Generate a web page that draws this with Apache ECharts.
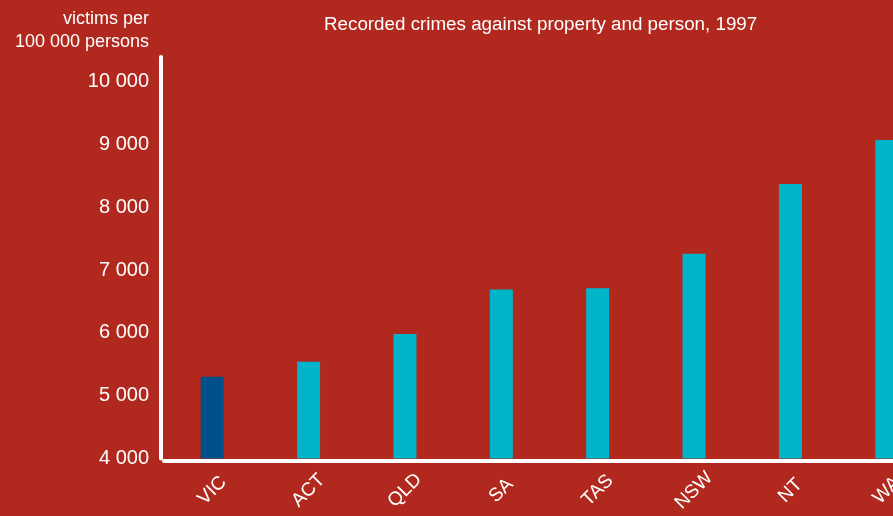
<!DOCTYPE html>
<html>
<head>
<meta charset="utf-8">
<script src="https://cdn.jsdelivr.net/npm/echarts@6/dist/echarts.min.js"></script>
<style>
  html, body { margin: 0; padding: 0; background: #B0281E; }
  #chart { width: 893px; height: 516px; }
</style>
</head>
<body>
<div id="chart"></div>
<script>
// States and territories, ordered by rate
const states = ['VIC', 'ACT', 'QLD', 'SA', 'TAS', 'NSW', 'NT', 'WA'];
// Victims per 100 000 persons, 1997
const victimRates = [5300, 5540, 5980, 6690, 6710, 7260, 8370, 9070];
// State drawn in the highlight colour
const highlightState = 'VIC';

const yMin = 4000;
const yMax = 10390;
const yStep = 1000;

const FONT = '"Liberation Sans", Arial, sans-serif';
const BG = '#B0281E';
const BAR = '#00B5CA';
const BAR_HI = '#00508A';
const INK = '#FFFFFF';

const fmt = v => String(v).replace(/\B(?=(\d{3})+(?!\d))/g, ' ');

const chart = echarts.init(document.getElementById('chart'), null, { renderer: 'canvas' });

chart.setOption({
  backgroundColor: BG,
  animation: false,
  title: {
    text: 'Recorded crimes against property and person, 1997',
    left: 319,
    top: 10,
    textStyle: { color: INK, fontFamily: FONT, fontSize: 18.8, fontWeight: 'normal' }
  },
  // the plot runs past the right edge of the page
  grid: {
    left: 164, width: 771, top: 57, bottom: 57.5,
    containLabel: false, outerBoundsMode: 'none'
  },
  xAxis: {
    type: 'category',
    data: states,
    offset: 2,
    axisLine: { show: true, lineStyle: { color: INK, width: 4 } },
    axisTick: { show: false },
    axisLabel: {
      color: INK, fontFamily: FONT, fontSize: 19,
      rotate: 45, align: 'center', verticalAlign: 'middle', margin: 30
    },
    splitLine: { show: false }
  },
  yAxis: {
    type: 'value',
    min: yMin,
    max: yMax,
    interval: yStep,
    offset: 3,
    name: 'victims per\n100 000 persons',
    nameLocation: 'end',
    nameGap: 3,
    nameTextStyle: {
      color: INK, fontFamily: FONT, fontSize: 18, align: 'right',
      lineHeight: 23, padding: [0, 12, 0, 0]
    },
    axisLine: { show: true, lineStyle: { color: INK, width: 4 } },
    axisTick: { show: false },
    splitLine: { show: false },
    axisLabel: {
      color: INK, fontFamily: FONT, fontSize: 20, margin: 12,
      padding: [0, 0, 5, 0],
      formatter: v => (v % yStep === 0 ? fmt(v) : '')
    }
  },
  series: [{
    type: 'bar',
    barWidth: 23,
    data: states.map((s, i) => ({
      value: victimRates[i],
      itemStyle: { color: s === highlightState ? BAR_HI : BAR }
    }))
  }]
});
</script>
</body>
</html>
